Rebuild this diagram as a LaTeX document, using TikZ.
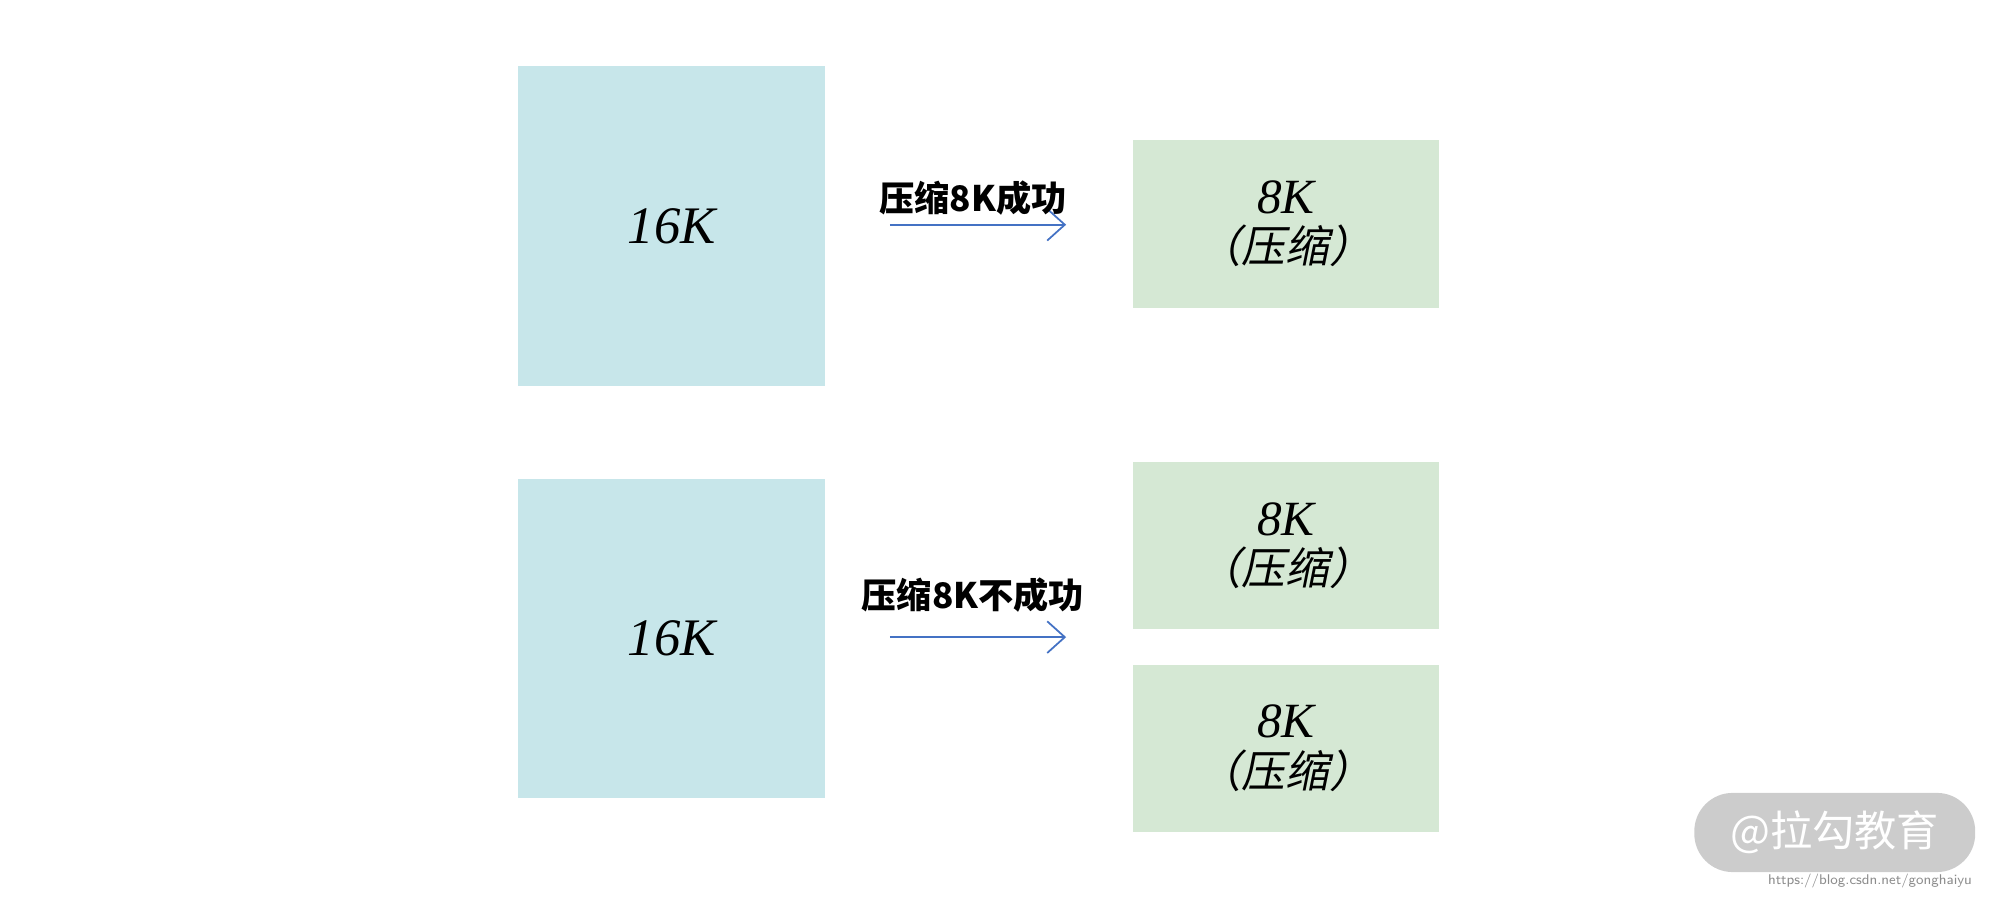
\documentclass[tikz,border=0pt]{standalone}
\usepackage{fontspec}
\setmainfont{Liberation Serif}
\newfontfamily\cjk{Noto Sans CJK SC}
\newfontfamily\cjkit[FakeSlant=0.2]{Noto Sans CJK SC}
\usetikzlibrary{arrows.meta}
\definecolor{bigblue}{HTML}{C7E6EA}
\definecolor{smallgreen}{HTML}{D5E8D4}
\definecolor{arrowblue}{HTML}{4472C4}
\tikzset{
  big/.style={draw=none, fill=bigblue, minimum width=240*0.01276cm, minimum height=250*0.01276cm, inner sep=0pt, font=\fontsize{15}{18}\selectfont\itshape},
  small/.style={draw=none, fill=smallgreen, minimum width=240*0.01276cm, minimum height=131*0.01276cm, inner sep=0pt, align=center, font=\fontsize{14}{15}\selectfont\itshape},
  flow/.style={arrowblue, line width=0.5pt, -{Straight Barb[length=5pt, width=9pt]}},
  lbl/.style={font=\fontsize{10}{12}\selectfont\bfseries\cjk, inner sep=1pt}
}
\newcommand{\zip}{{\cjkit\fontsize{12.5}{14}\selectfont（压缩）}}
\begin{document}
\begin{tikzpicture}[x=0.01276cm, y=-0.01276cm]
\useasboundingbox (0,0) rectangle (1568,703);
% top row
\node[big] (bigA) at (526,177) {16K};
\node[small] (smallA) at (1007,175.5) {8K\\[-1pt]\zip};
\coordinate (startA) at (697,176);
\coordinate (endA) at (835,176);
\draw[flow] (startA) -- (endA);
\node[lbl] (lblA) at (762,155) {压缩8K成功};
% bottom row
\node[big] (bigB) at (526,500) {16K};
\node[small] (smallB) at (1007,427.5) {8K\\[-1pt]\zip};
\node[small] (smallC) at (1007,586) {8K\\[-1pt]\zip};
\coordinate (startB) at (697,499);
\coordinate (endB) at (835,499);
\draw[flow] (startB) -- (endB);
\node[lbl] (lblB) at (762,466) {压缩8K不成功};
% watermark
\node[fill=black!20, rounded corners=30*0.01276cm, minimum width=220*0.01276cm, minimum height=62*0.01276cm, text=white, font=\fontsize{12}{14}\selectfont\cjk] (mark) at (1437,652) {@拉勾教育};
\node[text=black!45, font=\fontsize{4}{5}\selectfont\sffamily, anchor=east, inner sep=0pt] (url) at (1545,690) {https://blog.csdn.net/gonghaiyu};
\end{tikzpicture}
\end{document}
